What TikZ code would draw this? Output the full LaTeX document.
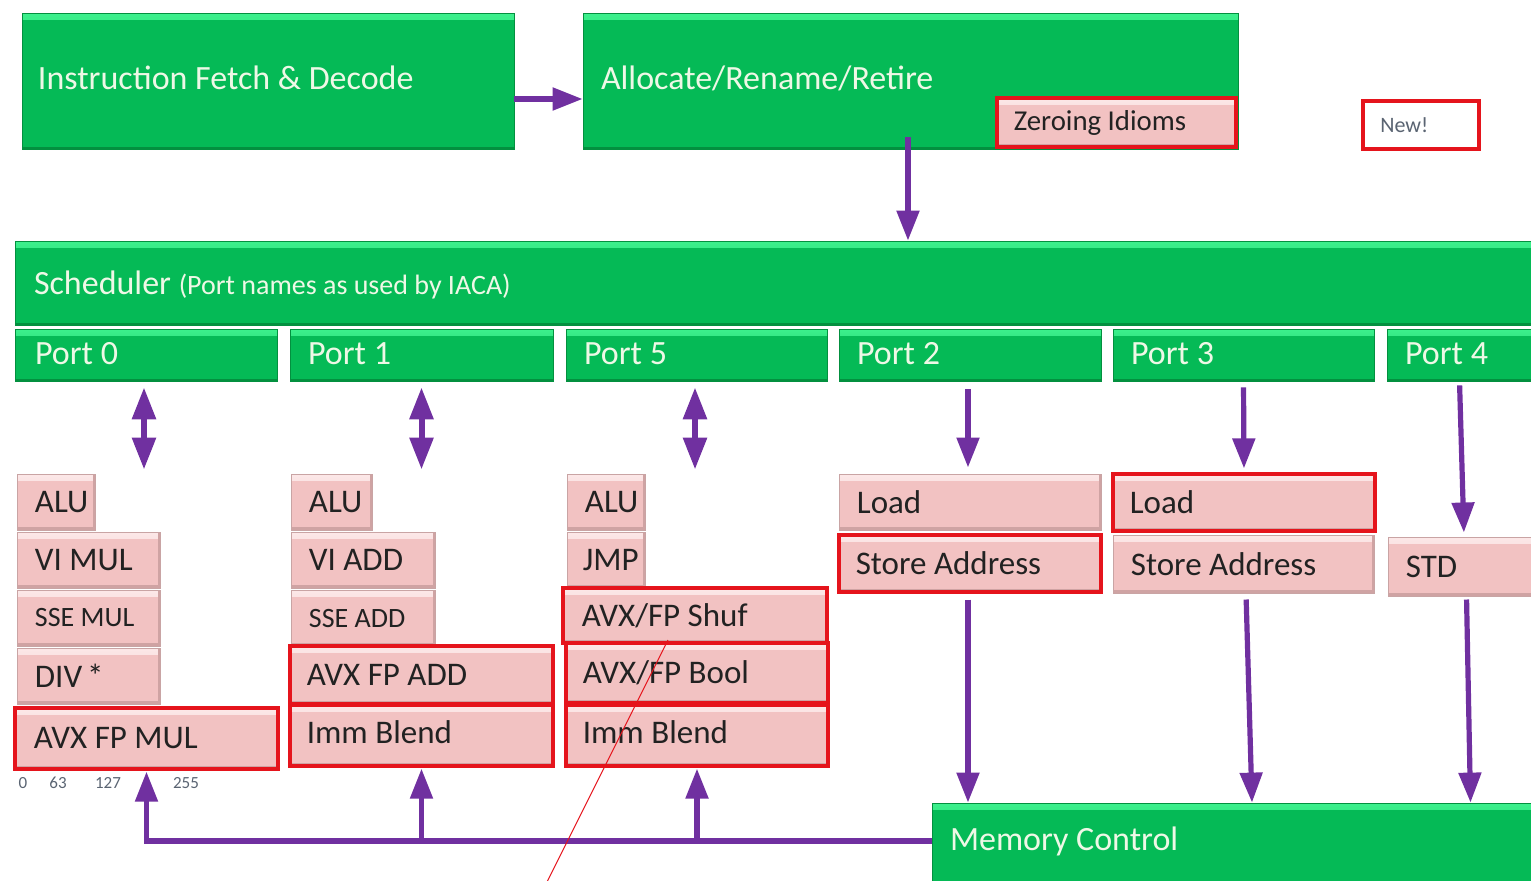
\documentclass[tikz,border=0pt]{standalone}
\usepackage{fontspec}
\setmainfont{Carlito}
\usetikzlibrary{fit,arrows.meta,calc}

\definecolor{gfill}{HTML}{05BA56}
\definecolor{glight}{HTML}{3CF08C}
\definecolor{gdark}{HTML}{03903F}
\definecolor{pinkc}{HTML}{F2C2C2}
\definecolor{pinklight}{HTML}{FCE8E8}
\definecolor{pinkdark}{HTML}{CFA3A3}
\definecolor{pinkedge}{HTML}{C9A4A4}
\definecolor{redc}{HTML}{E5141C}
\definecolor{purp}{HTML}{7030A0}
\definecolor{gtextc}{HTML}{EEF8E6}
\definecolor{ptextc}{HTML}{222222}
\definecolor{scalec}{HTML}{5A6472}

\tikzset{
  gbox/.style={fill=gfill, draw=gdark, line width=0.4pt, inner sep=0pt,
    path picture={
      \shade[top color=glight, bottom color=gfill]
        (path picture bounding box.north west) rectangle ([yshift=-3pt]path picture bounding box.north east);
      \fill[gdark] (path picture bounding box.south west) rectangle ([yshift=1.2pt]path picture bounding box.south east);
    }},
  pbox/.style={fill=pinkc, draw=pinkedge, line width=0.5pt, inner sep=0pt,
    path picture={
      \shade[top color=pinklight, bottom color=pinkc]
        (path picture bounding box.north west) rectangle ([yshift=-3pt]path picture bounding box.north east);
      \fill[pinkdark] (path picture bounding box.south west) rectangle ([yshift=1.4pt]path picture bounding box.south east);
      \fill[pinkdark] (path picture bounding box.north east) rectangle ([xshift=-1.2pt]path picture bounding box.south east);
    }},
  rbox/.style={pbox, draw=redc, line width=1.6pt},
  gtext/.style={anchor=west, inner sep=0pt, xshift=9pt, text=gtextc, font=\fontsize{17}{20}\selectfont},
  ptext/.style={anchor=west, inner sep=0pt, xshift=9pt, text=ptextc, font=\fontsize{16.5}{19}\selectfont},
  psmall/.style={ptext, font=\fontsize{14}{17}\selectfont},
  parrow/.style={draw=purp, line width=2.6pt, -{Triangle[width=11pt,length=15pt]}},
  darrow/.style={draw=purp, line width=3pt, {Triangle[width=11.5pt,length=16pt]}-{Triangle[width=11.5pt,length=16pt]}},
  scalelbl/.style={inner sep=0pt, text=scalec, font=\fontsize{8.5}{10}\selectfont},
}

\begin{document}
\begin{tikzpicture}[x=0.5pt, y=-0.5pt]
\useasboundingbox (0,0) rectangle (1531,880);

% front end
\node[gbox, fit={(22,13) (514,149)}, label={[gtext, xshift=-1pt, yshift=1.5pt]west:Instruction Fetch \& Decode}] (ifd) {};
\node[gbox, fit={(583,13) (1238,149)}, label={[gtext, yshift=1.5pt]west:Allocate/Rename/Retire}] (arr) {};
\node[rbox, fit={(997,98) (1236,147)}, label={[ptext, font=\fontsize{14.4}{17}\selectfont]west:Zeroing Idioms}] (zero) {};
\node[fill=white, draw=redc, line width=2pt, inner sep=0pt, fit={(1363,101) (1479,149)},
      label={[anchor=west, inner sep=0pt, xshift=9.5pt, text=scalec, font=\fontsize{11}{13}\selectfont]west:New!}] (new) {};

% scheduler and ports
\node[gbox, fit={(15,241) (1540,325)},
      label={[gtext, xshift=0.5pt, yshift=-1.2pt]west:{Scheduler {\fontsize{14}{17}\selectfont(Port names as used by IACA)}}}] (sched) {};
\node[gbox, fit={(15,329) (277,381)}, label={[gtext, xshift=1pt, yshift=0.8pt]west:Port 0}] (port0) {};
\node[gbox, fit={(290,329) (553,381)}, label={[gtext, yshift=0.8pt]west:Port 1}] (port1) {};
\node[gbox, fit={(566,329) (827,381)}, label={[gtext, yshift=0.8pt]west:Port 5}] (port5) {};
\node[gbox, fit={(839,329) (1101,381)}, label={[gtext, yshift=0.8pt]west:Port 2}] (port2) {};
\node[gbox, fit={(1113,329) (1374,381)}, label={[gtext, yshift=0.8pt]west:Port 3}] (port3) {};
\node[gbox, fit={(1387,329) (1540,381)}, label={[gtext, yshift=0.8pt]west:Port 4}] (port4) {};

% port 0 units
\node[pbox, fit={(17,474) (95,530)}, label={[ptext]west:ALU}] (p0alu) {};
\node[pbox, fit={(17,532) (160,588)}, label={[ptext]west:VI MUL}] (p0mul) {};
\node[pbox, fit={(17,590) (160,646)}, label={[psmall]west:SSE MUL}] (p0sse) {};
\node[pbox, fit={(17,648) (160,704)}, label={[ptext]west:DIV\hspace{-0.08em} *}] (p0div) {};
% port 1 units
\node[pbox, fit={(291,474) (372,530)}, label={[ptext]west:ALU}] (p1alu) {};
\node[pbox, fit={(291,532) (435,588)}, label={[ptext]west:VI ADD}] (p1add) {};
\node[pbox, fit={(291,590) (435,646)}, label={[psmall]west:SSE ADD}] (p1sse) {};
% port 5 units
\node[pbox, fit={(567,474) (645,530)}, label={[ptext]west:ALU}] (p5alu) {};
\node[pbox, fit={(567,532) (645,588)}, label={[ptext, xshift=-1pt]west:JMP}] (p5jmp) {};
% ports 2, 3, 4
\node[pbox, fit={(839,474) (1101,530)}, label={[ptext]west:Load}] (p2load) {};
\node[pbox, fit={(1113,535) (1374,593)}, label={[ptext]west:Store Address}] (p3st) {};
\node[pbox, fit={(1388,537) (1540,596)}, label={[ptext]west:STD}] (std) {};

% new units (red outline)
\node[rbox, fit={(15,708) (278,769)}, label={[ptext, xshift=1pt]west:AVX FP MUL}] (p0avx) {};
\node[rbox, fit={(290,646) (553,704)}, label={[ptext]west:AVX FP ADD}] (p1avx) {};
\node[rbox, fit={(290,705) (553,766)}, label={[ptext, yshift=1.5pt]west:Imm Blend}] (p1imm) {};
\node[rbox, fit={(563,588) (827,643)}, label={[ptext, xshift=1pt]west:AVX/FP Shuf}] (p5shuf) {};
\node[rbox, fit={(566,643) (828,703)}, label={[ptext]west:AVX/FP Bool}] (p5bool) {};
\node[rbox, fit={(566,705) (828,766)}, label={[ptext, yshift=1.5pt]west:Imm Blend}] (p5imm) {};
\node[rbox, fit={(839,535) (1101,592)}, label={[ptext]west:Store Address}] (p2st) {};
\node[rbox, fit={(1113,474) (1375,531)}, label={[ptext]west:Load}] (p3load) {};

% memory control
\node[gbox, fit={(932,803) (1540,885)}, label={[gtext, yshift=1.5pt]west:Memory Control}] (mem) {};

% register width scale
\node[scalelbl] (s0) at (23,783) {0};
\node[scalelbl] (s63) at (58,783) {63};
\node[scalelbl] (s127) at (108,783) {127};
\node[scalelbl] (s255) at (186,783) {255};

% front-end flow
\draw[parrow] ([yshift=-9pt]ifd.east) -- ([yshift=-9pt]ifd.east -| arr.west);
\draw[parrow] ([xshift=-1.25pt, yshift=6pt]arr.south) -- ([xshift=-1.25pt]arr.south |- sched.north);

% scheduler to execution units
\draw[darrow, shorten <=3pt, shorten >=2pt] ([xshift=-1pt]port0.south) -- ([xshift=-1pt]port0.south |- p0alu.north);
\draw[darrow, shorten <=3pt, shorten >=2pt] (port1.south) -- (port1.south |- p1alu.north);
\draw[darrow, shorten <=3pt, shorten >=2pt] ([xshift=-0.75pt]port5.south) -- ([xshift=-0.75pt]port5.south |- p5alu.north);
\draw[parrow, shorten <=4pt, shorten >=3pt] ([xshift=-1pt]port2.south) -- ([xshift=-1pt]p2load.north);
\draw[parrow, shorten <=3pt, shorten >=2pt] (port3.south) -- (p3load.north);
\draw[parrow, shorten <=2pt, shorten >=2pt] ([xshift=-2pt]port4.south) -- (std.north);

% address and data paths to memory control
\draw[parrow, shorten <=3pt] ([xshift=-1pt]p2st.south) -- ([xshift=-1pt]p2st.south |- mem.north);
\draw[parrow, shorten <=3pt] ([xshift=1.25pt]p3st.south) -- ([xshift=4.25pt]p3st.south |- mem.north);
\draw[parrow, shorten <=1.5pt] ([xshift=1.25pt]std.south) -- ([xshift=3.25pt]std.south |- mem.north);

% load data bus back to the execution stacks
\coordinate (bus) at ([yshift=1.5pt]mem.west);
\draw[parrow, shorten >=0.5pt] (bus) -| (p0avx.south);
\draw[parrow, shorten >=0.5pt] (bus -| p1imm.south) -- (p1imm.south);
\draw[parrow, shorten >=0.5pt] (bus -| p5imm.south) -- (p5imm.south);

% thin pointer line
\coordinate (ptrA) at (668,640);
\coordinate (ptrB) at (547,882);
\draw[redc, line width=0.5pt] (ptrA) -- (ptrB);
\end{tikzpicture}
\end{document}
